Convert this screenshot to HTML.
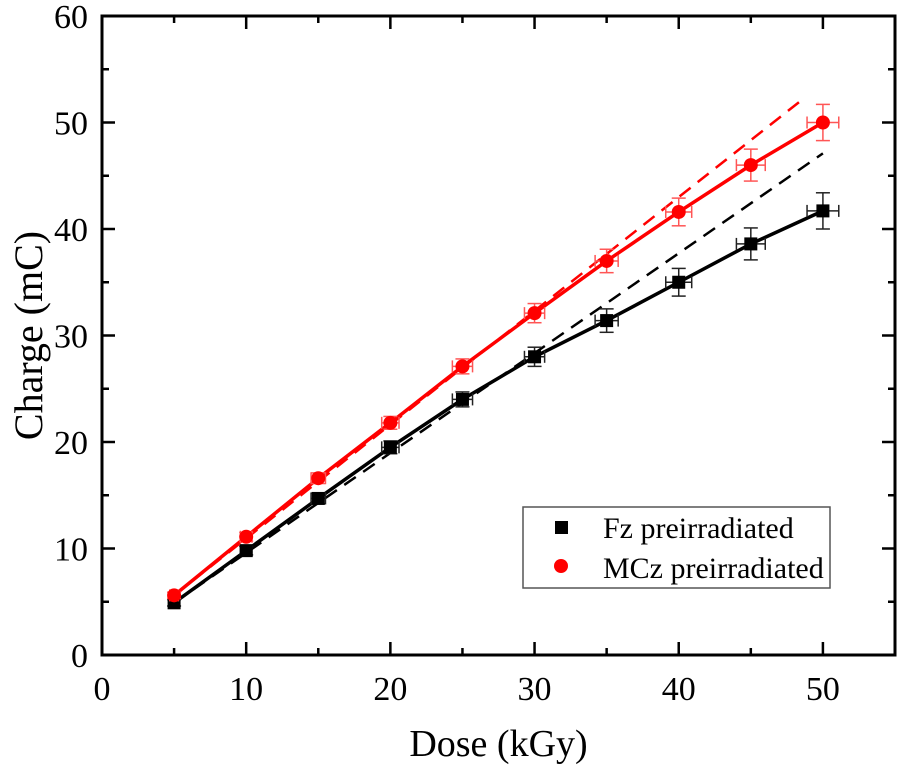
<!DOCTYPE html>
<html><head><meta charset="utf-8"><style>
html,body{margin:0;padding:0;background:#fff;}
svg{display:block;font-family:"Liberation Serif",serif;}
</style></head><body>
<svg id="chart" width="901" height="767"></svg>
<script>
const doses=[5,10,15,20,25,30,35,40,45,50];
const fzCharge=[4.9,9.8,14.7,19.5,24.0,28.0,31.4,35.0,38.6,41.7];
const mczCharge=[5.6,11.1,16.6,21.8,27.1,32.1,37.0,41.6,46.0,50.0];
const fzErr=[0.3,0.4,0.5,0.6,0.7,0.9,1.1,1.3,1.5,1.7];
const mczErr=[0.3,0.4,0.5,0.6,0.7,0.9,1.1,1.3,1.5,1.7];
const doseErr=[0.3,0.4,0.5,0.6,0.7,0.7,0.8,0.9,1.0,1.1];
const fzFitX=[5,50];
const fzFitY=[4.9,47.1];
const mczFitX=[5,48.8];
const mczFitY=[5.6,52.4];
const xTicks=[0,10,20,30,40,50];
const yTicks=[0,10,20,30,40,50,60];

const L=102,R=895,T=16,B=655,XMAX=55,YMAX=60;
const sx=v=>L+v*(R-L)/XMAX;
const sy=v=>B-v*(B-T)/YMAX;
const svg=document.getElementById('chart');
const NS='http://www.w3.org/2000/svg';
function mk(tag,attrs,parent){const e=document.createElementNS(NS,tag);for(const k in attrs)e.setAttribute(k,attrs[k]);(parent||svg).appendChild(e);return e;}

const frame=mk('rect',{x:L,y:T,width:R-L,height:B-T,fill:'none',stroke:'#000','stroke-width':3});



for(let v=0;v<=XMAX;v+=5){
  const major=v%10===0, len=major?13:7;
  mk('line',{x1:sx(v),x2:sx(v),y1:B,y2:B-len,stroke:'#000','stroke-width':2.5});
  mk('line',{x1:sx(v),x2:sx(v),y1:T,y2:T+len,stroke:'#000','stroke-width':2.5});
}
xTicks.forEach(v=>{const t=mk('text',{x:sx(v),y:B+45,'font-size':34,'text-anchor':'middle'});t.textContent=v;

});
for(let v=0;v<=YMAX;v+=5){
  const major=v%10===0, len=major?13:7;
  mk('line',{x1:L,x2:L+len,y1:sy(v),y2:sy(v),stroke:'#000','stroke-width':2.5});
  mk('line',{x1:R,x2:R-len,y1:sy(v),y2:sy(v),stroke:'#000','stroke-width':2.5});
}
yTicks.forEach(v=>{const t=mk('text',{x:L-14,y:sy(v)+12,'font-size':34,'text-anchor':'end'});t.textContent=v;

});

const xt=mk('text',{x:(L+R)/2,y:756,'font-size':38,'text-anchor':'middle'});xt.textContent='Dose (kGy)';


const yt=mk('text',{x:0,y:0,'font-size':40,'text-anchor':'middle',transform:`translate(42,${(T+B)/2}) rotate(-90)`});yt.textContent='Charge (mC)';



function series(ys,errs,fitX,fitY,color,shape,name){
  const g=mk('g',{});
  
  
  const fit=mk('line',{x1:sx(fitX[0]),y1:sy(fitY[0]),x2:sx(fitX[1]),y2:sy(fitY[1]),stroke:color,'stroke-width':2.5,'stroke-dasharray':'14,9'},g);
  
  
  const pl=mk('polyline',{points:doses.map((d,i)=>sx(d)+','+sy(ys[i])).join(' '),fill:'none',stroke:color,'stroke-width':3.5},g);
  
  
  const ec=color==='#000'?'#222':'#f55';
  doses.forEach((d,i)=>{
    const x=sx(d),y=sy(ys[i]),y1=sy(ys[i]+errs[i]),y2=sy(ys[i]-errs[i]),x1=sx(d-doseErr[i]),x2=sx(d+doseErr[i]);
    mk('line',{x1:x,x2:x,y1:y1,y2:y2,stroke:ec,'stroke-width':1.5},g);
    mk('line',{x1:x-7,x2:x+7,y1:y1,y2:y1,stroke:ec,'stroke-width':1.5},g);
    mk('line',{x1:x-7,x2:x+7,y1:y2,y2:y2,stroke:ec,'stroke-width':1.5},g);
    mk('line',{x1:x1,x2:x2,y1:y,y2:y,stroke:ec,'stroke-width':1.5},g);
    mk('line',{x1:x1,x2:x1,y1:y-6,y2:y+6,stroke:ec,'stroke-width':1.5},g);
    mk('line',{x1:x2,x2:x2,y1:y-6,y2:y+6,stroke:ec,'stroke-width':1.5},g);
    let m;
    if(shape==='sq') m=mk('rect',{x:x-6.5,y:y-6.5,width:13,height:13,fill:color},g);
    else m=mk('circle',{cx:x,cy:y,r:7,fill:color},g);
    
    
  });
}
series(fzCharge,fzErr,fzFitX,fzFitY,'#000','sq','fz');
series(mczCharge,mczErr,mczFitX,mczFitY,'#f00','ci','mcz');

const lg=mk('g',{});


mk('rect',{x:523,y:507,width:307,height:81,fill:'#fff',stroke:'#555','stroke-width':1.5},lg);
mk('rect',{x:555,y:521,width:13,height:13,fill:'#000'},lg);
mk('circle',{cx:561,cy:566,r:7,fill:'#f00'},lg);
const l1=mk('text',{x:603,y:538,'font-size':30},lg);l1.textContent='Fz preirradiated';


const l2=mk('text',{x:603,y:578,'font-size':30},lg);l2.textContent='MCz preirradiated';


</script>
</body></html>
